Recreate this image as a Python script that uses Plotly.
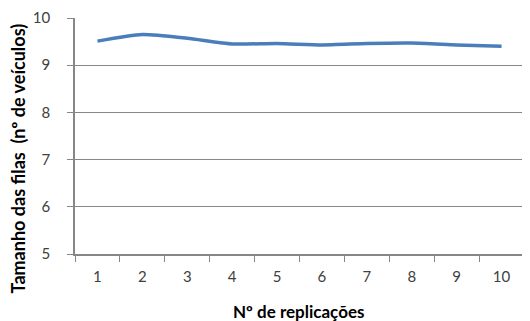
import plotly.graph_objects as go

# data
replicacoes = ['1', '2', '3', '4', '5', '6', '7', '8', '9', '10']
tamanho_filas = [9.51, 9.65, 9.57, 9.45, 9.46, 9.43, 9.46, 9.47, 9.43, 9.40]
y_ticks = [5, 6, 7, 8, 9, 10]

fig = go.Figure()
fig.add_trace(go.Scatter(
    x=replicacoes,
    y=tamanho_filas,
    mode='lines',
    line=dict(color='#4a7ebb', width=3.5, shape='spline', smoothing=0.6),
    showlegend=False,
))

# the page body adds an 8px offset, so margins are shifted by that much
fig.update_layout(
    width=530, height=321,
    margin=dict(l=67, r=14, t=10, b=75),
    paper_bgcolor='white',
    plot_bgcolor='white',
    font=dict(family='Lato, Open Sans, sans-serif', size=15, color='#404040'),
)
fig.update_xaxes(
    type='category',
    range=[-0.5, len(replicacoes) - 0.5],
    tickson='boundaries',
    ticks='outside', ticklen=6, tickcolor='#878787',
    showline=True, linecolor='#878787', linewidth=1.5,
    showgrid=False,
    tickfont=dict(size=15),
    ticklabelstandoff=8,
    automargin=False,
)
fig.update_yaxes(
    range=[5, 10],
    tickvals=y_ticks,
    ticks='outside', ticklen=6, tickcolor='#878787',
    showline=True, linecolor='#878787', linewidth=1.5,
    showgrid=True, gridcolor='#878787', gridwidth=1,
    tickfont=dict(size=15),
    ticklabelstandoff=14,
    ticklabeloverflow='allow',
    automargin=False,
)

# axis titles as annotations so they sit where the reference has them
fig.add_annotation(
    text='<b>Nº de replicações</b>', xref='paper', yref='paper',
    x=0.497, y=-0.242, xanchor='center', yanchor='middle',
    showarrow=False, font=dict(size=17, color='black'),
)
fig.add_annotation(
    text='<b>Tamanho das filas  (nº de veículos)</b>', xref='paper', yref='paper',
    x=-0.127, y=0.405, xanchor='center', yanchor='middle', textangle=-90,
    showarrow=False, font=dict(size=18, color='black'),
)

fig.write_html("out.html")
